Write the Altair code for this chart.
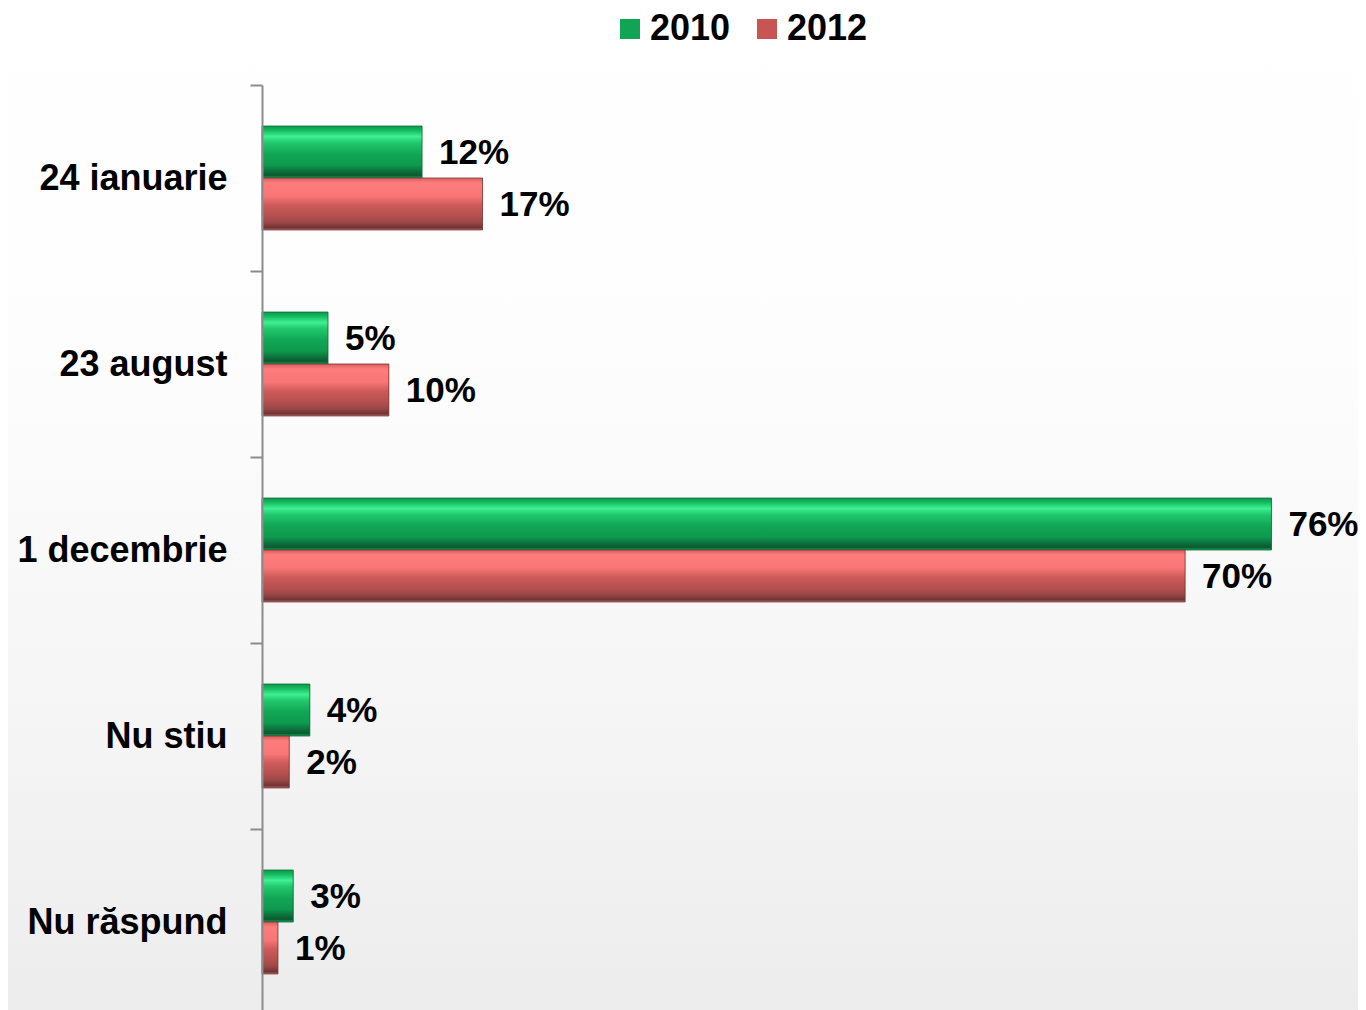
import altair as alt
import pandas as pd

categories = ["24 ianuarie", "23 august", "1 decembrie", "Nu stiu", "Nu răspund"]
years = ["2010", "2012"]
v2010 = [12.05, 4.97, 76.0, 3.6, 2.35]
v2012 = [16.6, 9.55, 69.5, 2.05, 1.2]
labels2010 = ["12%", "5%", "76%", "4%", "3%"]
labels2012 = ["17%", "10%", "70%", "2%", "1%"]

rows = []
for c, a, b, la, lb in zip(categories, v2010, v2012, labels2010, labels2012):
    rows.append({"cat": c, "year": "2010", "value": a, "label": la})
    rows.append({"cat": c, "year": "2012", "value": b, "label": lb})
df = pd.DataFrame(rows)

FONT = "Liberation Sans"
W, H = 1036, 930

green_grad = alt.LinearGradient(
    gradient="linear", x1=0, y1=0, x2=0, y2=1,
    stops=[
        alt.GradientStop(color="#0a9a4a", offset=0.0),
        alt.GradientStop(color="#13b95e", offset=0.08),
        alt.GradientStop(color="#3ff091", offset=0.2),
        alt.GradientStop(color="#20c86c", offset=0.32),
        alt.GradientStop(color="#10a555", offset=0.55),
        alt.GradientStop(color="#0e9a4e", offset=0.75),
        alt.GradientStop(color="#0c6c3a", offset=0.88),
        alt.GradientStop(color="#0a5a30", offset=0.95),
        alt.GradientStop(color="#18a85a", offset=1.0),
    ],
)
red_grad = alt.LinearGradient(
    gradient="linear", x1=0, y1=0, x2=0, y2=1,
    stops=[
        alt.GradientStop(color="#d86060", offset=0.0),
        alt.GradientStop(color="#ff7c7c", offset=0.1),
        alt.GradientStop(color="#f87676", offset=0.35),
        alt.GradientStop(color="#cf5a5a", offset=0.52),
        alt.GradientStop(color="#b55050", offset=0.72),
        alt.GradientStop(color="#9a4646", offset=0.86),
        alt.GradientStop(color="#6e3232", offset=0.96),
        alt.GradientStop(color="#c07070", offset=1.0),
    ],
)
bg_grad = alt.LinearGradient(
    gradient="linear", x1=0, y1=0, x2=0, y2=1,
    stops=[
        alt.GradientStop(color="#ffffff", offset=0.0),
        alt.GradientStop(color="#fdfdfd", offset=0.35),
        alt.GradientStop(color="#f5f5f5", offset=0.7),
        alt.GradientStop(color="#ececec", offset=1.0),
    ],
)

y_enc = alt.Y("cat:N", sort=categories,
              scale=alt.Scale(paddingInner=0, paddingOuter=0),
              axis=alt.Axis(title=None, domainColor="#8c8c8c", domainWidth=2,
                            tickColor="#8c8c8c", tickWidth=2, tickSize=12,
                            tickBand="extent", labelFont=FONT, labelFontSize=36,
                            labelFontWeight="bold", labelColor="#000000",
                            labelPadding=23, labelLimit=500, grid=False, zindex=2))
x_enc = alt.X("value:Q", scale=alt.Scale(domain=[0, 78], nice=False, zero=True), axis=None)
yoff = alt.YOffset("year:N", scale=alt.Scale(domain=years, paddingInner=0, paddingOuter=0.79))

bg = alt.Chart(pd.DataFrame({"k": [0]})).mark_rect(fill=bg_grad).encode(
    x=alt.value(-270), x2=alt.value(W + 140), y=alt.value(-90), y2=alt.value(H + 10)
)

base = alt.Chart(df).mark_bar().encode(
    x=x_enc, y=y_enc, yOffset=yoff,
    color=alt.Color("year:N", scale=alt.Scale(domain=years, range=["#0fa555", "#c85454"]),
                    legend=alt.Legend(title=None, orient="none", direction="horizontal",
                                      legendX=350, legendY=-74, symbolType="square",
                                      symbolSize=400, symbolStrokeWidth=0,
                                      labelFont=FONT, labelFontSize=36, labelFontWeight="bold",
                                      labelColor="#000000", labelOffset=2, columnPadding=18,
                                      zindex=3)),
)

g = alt.Chart(df).transform_filter(alt.datum.year == "2010").mark_bar(
    fill=green_grad, stroke="#0a6a36", strokeWidth=0.8
).encode(x=x_enc, y=y_enc, yOffset=yoff)
r = alt.Chart(df).transform_filter(alt.datum.year == "2012").mark_bar(
    fill=red_grad, stroke="#7a3434", strokeWidth=0.8
).encode(x=x_enc, y=y_enc, yOffset=yoff)

txt = alt.Chart(df).mark_text(align="left", baseline="middle", dx=17, dy=1, font=FONT,
                              fontSize=35, fontWeight="bold", color="#000000").encode(
    x=x_enc, y=y_enc, yOffset=yoff, text="label:N"
)

chart = alt.layer(bg, base, g, r, txt).properties(
    width=W, height=H,
    autosize=alt.AutoSizeParams(type="none"),
    padding={"left": 254, "top": 77, "right": 60, "bottom": 0},
).configure_view(stroke=None).configure(background="#ffffff")

chart.save("out.html", embed_options={"renderer": "svg", "actions": False})
